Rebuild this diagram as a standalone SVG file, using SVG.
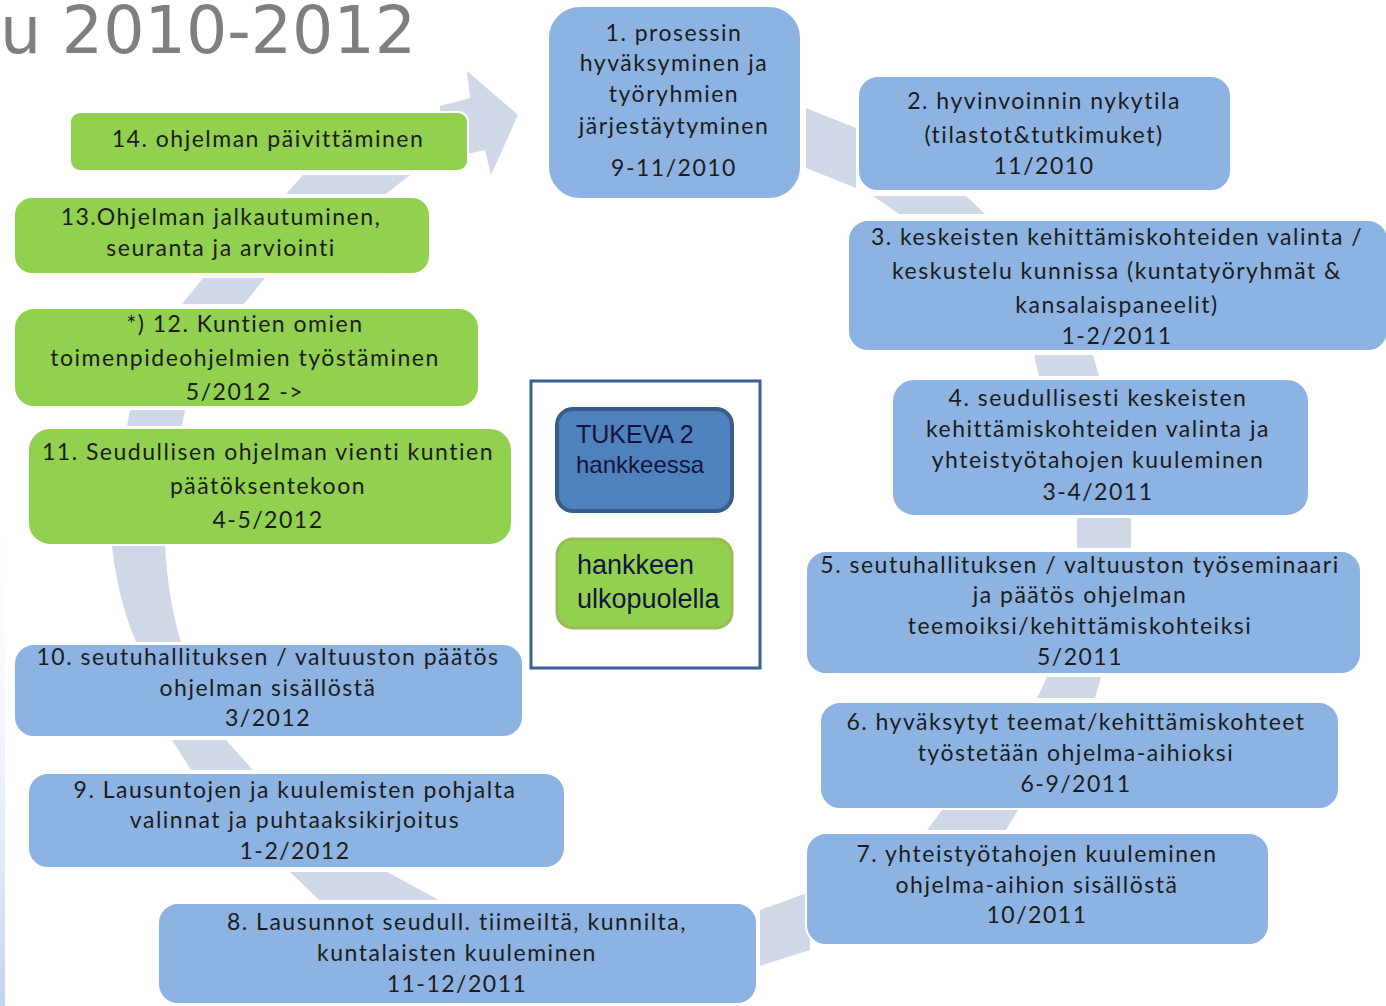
<svg xmlns="http://www.w3.org/2000/svg" width="1386" height="1006" viewBox="0 0 1386 1006">
<defs>
<linearGradient id="edge" x1="0" y1="0" x2="0" y2="1">
<stop offset="0" stop-color="#ffffff" stop-opacity="0"/>
<stop offset="1" stop-color="#c3d3f3"/>
</linearGradient>
</defs>
<style>
.blue{fill:#8db3e2;stroke:#ffffff;stroke-width:2}
.green{fill:#92d050;stroke:#ffffff;stroke-width:2}
.t{font-family:Lato,"Noto Sans",sans-serif;font-size:23px;letter-spacing:1.5px;fill:#1c1c1c;text-anchor:middle}
.lg{font-family:"Liberation Sans",Arial,sans-serif;fill:#14143c}
.band{fill:#d1d9e8}
</style>
<rect width="1386" height="1006" fill="#ffffff"/>
<rect x="0" y="480" width="5" height="526" fill="url(#edge)"/>
<text x="0" y="53" font-family="DejaVu Sans,Verdana,sans-serif" font-size="65" fill="#7f7f7f">u 2010-2012</text>

<g id="connectors">
<polygon class="band" points="440,106 470,98 467,71 518,115 491,175 485,150 440,160"/>
<polygon class="band" points="806,108 856,128 856,188 806,168"/>
<polygon class="band" points="873,196 966,196 985,214 899,214"/>
<polygon class="band" points="1034,355 1093,355 1099,376 1039,376"/>
<rect class="band" x="1077" y="518" width="54" height="30"/>
<polygon class="band" points="1047,677 1101,677 1095,698 1037,698"/>
<polygon class="band" points="942,810 1018,810 1006,830 927,830"/>
<polygon class="band" points="760,910 810,892 810,950 760,966"/>
<polygon class="band" points="290,872 387,872 439,900 319,900"/>
<polygon class="band" points="172,740 226,740 253,770 191,770"/>
<path class="band" d="M112,546 Q118,600 136,642 L181,642 Q168,600 165,546 Z"/>
<polygon class="band" points="130,410 185,410 182,426 127,426"/>
<polygon class="band" points="203,278 265,278 244,304 182,304"/>
<polygon class="band" points="303,175 410,175 386,194 286,194"/>
</g>

<g id="node1">
<rect class="blue" x="548" y="6" width="253" height="193" rx="32"/>
<text class="t" x="674" y="41">1.  prosessin</text>
<text class="t" x="674" y="71">hyväksyminen ja</text>
<text class="t" x="674" y="102">työryhmien</text>
<text class="t" x="674" y="134">järjestäytyminen</text>
<text class="t" x="674" y="176">9-11/2010</text>
</g>
<g id="node2">
<rect class="blue" x="858" y="76" width="373" height="115" rx="20"/>
<text class="t" x="1044" y="109">2. hyvinvoinnin nykytila</text>
<text class="t" x="1044" y="143">(tilastot&amp;tutkimuket)</text>
<text class="t" x="1044" y="174">11/2010</text>
</g>
<g id="node3">
<rect class="blue" x="848" y="220" width="540" height="131" rx="20"/>
<text class="t" x="1117" y="245">3. keskeisten kehittämiskohteiden valinta /</text>
<text class="t" x="1117" y="279">keskustelu kunnissa (kuntatyöryhmät &amp;</text>
<text class="t" x="1117" y="313">kansalaispaneelit)</text>
<text class="t" x="1117" y="344">1-2/2011</text>
</g>
<g id="node4">
<rect class="blue" x="892" y="379" width="417" height="137" rx="22"/>
<text class="t" x="1098" y="406">4. seudullisesti keskeisten</text>
<text class="t" x="1098" y="437">kehittämiskohteiden valinta ja</text>
<text class="t" x="1098" y="468">yhteistyötahojen kuuleminen</text>
<text class="t" x="1098" y="500">3-4/2011</text>
</g>
<g id="node5">
<rect class="blue" x="806" y="551" width="555" height="123" rx="20"/>
<text class="t" x="1080" y="573">5. seutuhallituksen / valtuuston työseminaari</text>
<text class="t" x="1080" y="603">ja päätös ohjelman</text>
<text class="t" x="1080" y="634">teemoiksi/kehittämiskohteiksi</text>
<text class="t" x="1080" y="665">5/2011</text>
</g>
<g id="node6">
<rect class="blue" x="820" y="702" width="519" height="107" rx="20"/>
<text class="t" x="1076" y="730">6. hyväksytyt teemat/kehittämiskohteet</text>
<text class="t" x="1076" y="761">työstetään ohjelma-aihioksi</text>
<text class="t" x="1076" y="792">6-9/2011</text>
</g>
<g id="node7">
<rect class="blue" x="806" y="833" width="463" height="112" rx="20"/>
<text class="t" x="1037" y="862">7. yhteistyötahojen kuuleminen</text>
<text class="t" x="1037" y="893">ohjelma-aihion sisällöstä</text>
<text class="t" x="1037" y="923">10/2011</text>
</g>
<g id="node8">
<rect class="blue" x="158" y="903" width="599" height="101" rx="20"/>
<text class="t" x="457" y="930">8. Lausunnot seudull. tiimeiltä, kunnilta,</text>
<text class="t" x="457" y="961">kuntalaisten kuuleminen</text>
<text class="t" x="457" y="992">11-12/2011</text>
</g>
<g id="node9">
<rect class="blue" x="28" y="773" width="537" height="95" rx="20"/>
<text class="t" x="295" y="798">9. Lausuntojen ja kuulemisten pohjalta</text>
<text class="t" x="295" y="828">valinnat ja puhtaaksikirjoitus</text>
<text class="t" x="295" y="859">1-2/2012</text>
</g>
<g id="node10">
<rect class="blue" x="14" y="644" width="509" height="93" rx="20"/>
<text class="t" x="268" y="665">10. seutuhallituksen / valtuuston päätös</text>
<text class="t" x="268" y="696">ohjelman sisällöstä</text>
<text class="t" x="268" y="726">3/2012</text>
</g>
<g id="node11">
<rect class="green" x="28" y="428" width="484" height="117" rx="22"/>
<text class="t" x="268" y="460">11. Seudullisen ohjelman vienti  kuntien</text>
<text class="t" x="268" y="494">päätöksentekoon</text>
<text class="t" x="268" y="528">4-5/2012</text>
</g>
<g id="node12">
<rect class="green" x="14" y="308" width="465" height="99" rx="20"/>
<text class="t" x="245" y="332">*) 12. Kuntien omien</text>
<text class="t" x="245" y="366">toimenpideohjelmien työstäminen</text>
<text class="t" x="245" y="400">5/2012 -&gt;</text>
</g>
<g id="node13">
<rect class="green" x="14" y="197" width="416" height="77" rx="18"/>
<text class="t" x="221" y="225">13.Ohjelman jalkautuminen,</text>
<text class="t" x="221" y="256">seuranta ja arviointi</text>
</g>
<g id="node14">
<rect class="green" x="70" y="112" width="398" height="59" rx="10"/>
<text class="t" x="268" y="147">14. ohjelman päivittäminen</text>
</g>

<g id="legend">
<rect x="531" y="381" width="229" height="287" fill="#ffffff" stroke="#3b5f8f" stroke-width="3"/>
<rect x="557" y="409" width="175" height="102" rx="16" fill="#4f81bd" stroke="#385d8a" stroke-width="4"/>
<text class="lg" x="576" y="443" font-size="25">TUKEVA 2</text>
<text class="lg" x="576" y="473" font-size="24">hankkeessa</text>
<rect x="557" y="539" width="175" height="89" rx="16" fill="#92d050" stroke="#9bbb59" stroke-width="3"/>
<text class="lg" x="577" y="574" font-size="27" fill="#1e1e00">hankkeen</text>
<text class="lg" x="577" y="608" font-size="27" fill="#1e1e00">ulkopuolella</text>
</g>
</svg>
